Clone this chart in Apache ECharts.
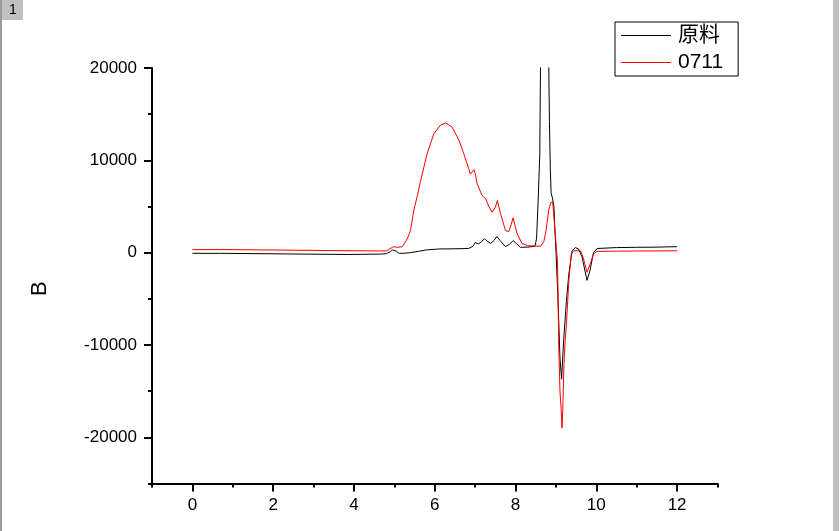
<!DOCTYPE html>
<html>
<head>
<meta charset="utf-8">
<script src="https://cdn.jsdelivr.net/npm/echarts@6/dist/echarts.min.js"></script>
<style>
html,body{margin:0;padding:0;background:#fff;}
#chart{width:839px;height:531px;}
</style>
</head>
<body>
<div id="chart"></div>
<script>
// ---- data ----
const seriesNames = ['原料', '0711'];
const xTickLabels = [0, 2, 4, 6, 8, 10, 12];
const yTickLabels = [-20000, -10000, 0, 10000, 20000];
const yAxisName = 'B';

const xBlack = [0, 0.7, 0.72, 3.87, 3.9, 4.7, 4.8, 4.9, 4.95, 5.05, 5.12, 5.25, 5.4, 5.6, 5.8, 6.1, 6.5, 6.84, 6.95, 7.0, 7.08, 7.16, 7.23, 7.3, 7.38, 7.46, 7.54, 7.62, 7.75, 7.85, 7.94, 8.03, 8.12, 8.3, 8.48, 8.52, 8.56, 8.6, 8.62, 8.66, 8.72, 8.78, 8.82, 8.84, 8.86, 8.88, 8.92, 8.95, 8.98, 9.0, 9.05, 9.1, 9.14, 9.19, 9.26, 9.32, 9.4, 9.48, 9.56, 9.65, 9.72, 9.77, 9.84, 9.93, 10.02, 10.5, 11, 11.5, 12];
const yBlack = [-70, -70, -200, -200, -150, -150, -100, 100, 300, 150, -70, -60, 0, 150, 300, 400, 420, 450, 700, 1100, 950, 1200, 1500, 1250, 1000, 1300, 1750, 1300, 650, 900, 1300, 950, 580, 600, 690, 1500, 5600, 10600, 21000, 40000, 45000, 40000, 21000, 14200, 9300, 6500, 5800, 5000, 2000, 200, -4850, -11400, -13700, -9570, -5200, -2300, 200, 550, 400, -500, -2000, -3000, -2000, 0, 450, 550, 580, 600, 650];

const xRed = [0, 0.88, 0.9, 4.8, 4.86, 4.98, 5.07, 5.2, 5.32, 5.4, 5.48, 5.57, 5.65, 5.81, 5.98, 6.14, 6.27, 6.43, 6.6, 6.72, 6.84, 6.88, 6.97, 7.0, 7.05, 7.17, 7.26, 7.34, 7.42, 7.5, 7.55, 7.63, 7.75, 7.83, 7.89, 7.94, 8.04, 8.16, 8.3, 8.62, 8.7, 8.76, 8.82, 8.87, 8.92, 8.97, 9.01, 9.04, 9.07, 9.1, 9.13, 9.15, 9.17, 9.2, 9.23, 9.26, 9.32, 9.38, 9.44, 9.61, 9.68, 9.77, 9.85, 9.93, 10.02, 11, 12];
const yRed = [330, 330, 180, 180, 350, 650, 580, 650, 1500, 2400, 4550, 6200, 7800, 10700, 12900, 13800, 14050, 13600, 12170, 10700, 9100, 8500, 9000, 8600, 7470, 6200, 5840, 5000, 4380, 4920, 5650, 4200, 2400, 2280, 3000, 3770, 2030, 1000, 760, 690, 1200, 2500, 4560, 5400, 5500, 2750, 580, -1000, -10000, -15000, -17000, -19000, -17000, -12000, -9500, -7750, -3000, -150, 200, 200, -600, -2130, -1200, -150, 140, 180, 200];

const zip = (xs, ys) => xs.map((x, i) => [x, ys[i]]);

const chart = echarts.init(document.getElementById('chart'), null, {renderer: 'canvas'});
const FONT = '"Liberation Sans", Arial, "Noto Sans CJK SC", sans-serif';
const gridL = 152, gridR = 839 - 717.5, gridT = 68, gridB = 531 - 483.5;
const plain = v => String(v);

chart.setOption({
  animation: false,
  backgroundColor: '#ffffff',
  grid: {left: gridL, right: gridR, top: gridT, bottom: gridB, containLabel: false},
  legend: {
    orient: 'vertical',
    left: 615, top: 22,
    padding: [3, 15, 3, 6],
    itemGap: 6,
    itemWidth: 50, itemHeight: 1,
    icon: 'rect',
    borderColor: '#000', borderWidth: 1,
    backgroundColor: '#fff',
    textStyle: {fontFamily: FONT, fontSize: 21, color: '#000', padding: [0, 0, 0, 2]},
    data: seriesNames
  },
  graphic: [
    {type: 'rect', shape: {x: 0, y: 0, width: 2, height: 531}, style: {fill: '#9a9a9a'}, silent: true},
    {type: 'rect', shape: {x: 2, y: 0, width: 21, height: 20}, style: {fill: '#c0c0c0'}, silent: true},
    {type: 'text', left: 9, top: 3, style: {text: '1', fontFamily: FONT, fontSize: 14, fill: '#000'}, silent: true},
    {type: 'rect', shape: {x: 833, y: 0, width: 6, height: 531}, style: {fill: '#c0c0c0'}, silent: true}
  ],
  xAxis: [
    {
      type: 'value', min: -1, max: 13, position: 'bottom',
      axisLine: {show: true, onZero: false, lineStyle: {color: '#000', width: 2}},
      axisTick: {show: true, length: 8, lineStyle: {color: '#000', width: 2}, customValues: xTickLabels},
      axisLabel: {show: true, margin: 13, fontFamily: FONT, fontSize: 17, color: '#000', customValues: xTickLabels, formatter: plain},
      splitLine: {show: false}
    },
    {
      type: 'value', min: -1, max: 13, interval: 1, position: 'bottom',
      axisLine: {show: false, onZero: false},
      axisTick: {show: true, length: 4, lineStyle: {color: '#000', width: 2}},
      axisLabel: {show: false},
      splitLine: {show: false}
    }
  ],
  yAxis: [
    {
      type: 'value', min: -25000, max: 20000, position: 'left',
      name: yAxisName, nameLocation: 'middle', nameGap: 101, nameRotate: 90,
      nameTextStyle: {fontFamily: FONT, fontSize: 22, color: '#000', padding: [0, 26, 0, 0]},
      axisLine: {show: true, onZero: false, lineStyle: {color: '#000', width: 2}},
      axisTick: {show: true, length: 8, lineStyle: {color: '#000', width: 2}, customValues: yTickLabels},
      axisLabel: {show: true, margin: 15, fontFamily: FONT, fontSize: 17, color: '#000', customValues: yTickLabels, formatter: plain},
      splitLine: {show: false}
    },
    {
      type: 'value', min: -25000, max: 20000, interval: 5000, position: 'left',
      axisLine: {show: false, onZero: false},
      axisTick: {show: true, length: 4, lineStyle: {color: '#000', width: 2}},
      axisLabel: {show: false},
      splitLine: {show: false}
    }
  ],
  series: [
    {
      name: seriesNames[0], type: 'line', xAxisIndex: 0, yAxisIndex: 0,
      data: zip(xBlack, yBlack), showSymbol: false, symbol: 'none', clip: true,
      lineStyle: {color: '#000000', width: 1}, itemStyle: {color: '#000000'}
    },
    {
      name: seriesNames[1], type: 'line', xAxisIndex: 0, yAxisIndex: 0,
      data: zip(xRed, yRed), showSymbol: false, symbol: 'none', clip: true,
      lineStyle: {color: '#ff0000', width: 1}, itemStyle: {color: '#ff0000'}
    }
  ]
});
</script>
</body>
</html>
